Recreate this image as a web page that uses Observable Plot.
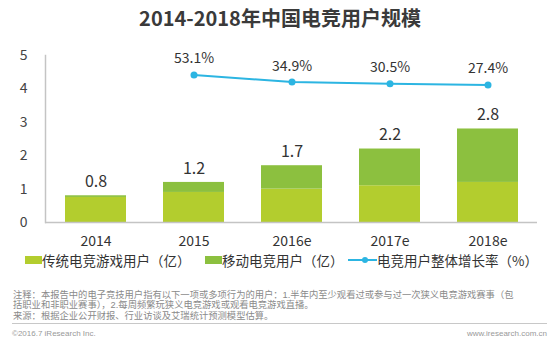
<!DOCTYPE html>
<html>
<head>
<meta charset="utf-8">
<script src="https://cdn.jsdelivr.net/npm/d3@7"></script>
<script src="https://cdn.jsdelivr.net/npm/@observablehq/plot@0.6"></script>
<style>
  html, body { margin: 0; padding: 0; background: #fff; }
  body { position: relative; width: 550px; height: 361px; overflow: hidden; font-family: "Noto Sans CJK SC", "Noto Sans", sans-serif; color: #333; }
  #title { position: absolute; left: 0; top: 0; width: 550px; height: 36px; line-height: 36px; text-align: center; font-size: 20px; font-weight: bold; color: #3a3a3a; padding-left: 10px; box-sizing: border-box; }
  #chart { position: absolute; left: 0; top: 36px; }
  #legend { position: absolute; left: 0; top: 248px; width: 550px; height: 24px; font-size: 13.5px; color: #333; }
  .li { position: absolute; top: 0; height: 24px; line-height: 24px; display: flex; align-items: center; white-space: nowrap; }
  .sw { display: inline-block; width: 17px; height: 8px; }
  #notes { position: absolute; left: 13px; top: 289.5px; font-family: "Liberation Sans", "Noto Sans CJK SC", sans-serif; font-size: 9.3px; line-height: 10.5px; color: #8a8a8a; white-space: nowrap; }
  #foot { position: absolute; left: 12px; right: 3px; top: 323px; border-top: 1px solid #c8c8c8; display: flex; justify-content: space-between; font-size: 8px; line-height: 10px; color: #999; padding-top: 5px; font-family: "Liberation Sans", Arial, sans-serif; }
</style>
</head>
<body>
<div id="title"></div>
<div id="chart"></div>
<div id="legend"></div>
<div id="notes"></div>
<div id="foot"><span>©2016.7 iResearch Inc.</span><span>www.iresearch.com.cn</span></div>
<script>
const titleText = "2014-2018年中国电竞用户规模";
const years = ["2014", "2015", "2016e", "2017e", "2018e"];
const traditional = [0.75, 0.9, 1.0, 1.1, 1.2];
const mobile = [0.05, 0.3, 0.7, 1.1, 1.6];
const totals = [0.8, 1.2, 1.7, 2.2, 2.8];
const growth = [null, 53.1, 34.9, 30.5, 27.4];
const seriesNames = ["传统电竞游戏用户（亿）", "移动电竞用户（亿）", "电竞用户整体增长率（%）"];
const seriesColors = ["#b3cd2e", "#8cc03f", "#2cb5e2"];
const yTicks = [0, 1, 2, 3, 4, 5];
const noteLines = [
  "注释：本报告中的电子竞技用户指有以下一项或多项行为的用户：1.半年内至少观看过或参与过一次狭义电竞游戏赛事（包",
  "括职业和非职业赛事），2.每周频繁玩狭义电竞游戏或观看电竞游戏直播。",
  "来源：根据企业公开财报、行业访谈及艾瑞统计预测模型估算。"
];

document.getElementById("title").textContent = titleText;
document.getElementById("notes").innerHTML = noteLines.map(s => `<div>${s}</div>`).join("");

const stacked = [];
years.forEach((y, i) => {
  stacked.push({year: y, type: seriesNames[0], value: traditional[i]});
  stacked.push({year: y, type: seriesNames[1], value: mobile[i]});
});
const totalData = years.map((y, i) => ({year: y, total: totals[i]}));
const rateData = years.map((y, i) => ({year: y, rate: growth[i]})).filter(d => d.rate != null);

// secondary (hidden) axis for the growth rate, mapped onto the primary 0–5 range
const rateAxis = d3.scaleLinear().domain([-325, 103]).range([0, 5]);

const chart = Plot.plot({
  width: 550,
  height: 225,
  marginLeft: 45,
  marginRight: 13,
  marginTop: 19,
  marginBottom: 39,
  style: {fontFamily: "'Noto Sans CJK SC', sans-serif", color: "#333", background: "transparent"},
  x: {domain: years, paddingInner: 0.38, paddingOuter: 0.19, label: null},
  y: {domain: [0, 5], label: null},
  color: {domain: seriesNames.slice(0, 2), range: seriesColors.slice(0, 2)},
  marks: [
    Plot.axisY({ticks: yTicks, tickFormat: d3.format("d"), tickSize: 0, tickPadding: 18, fontSize: 14, label: null, fill: "#444"}),
    Plot.axisX({tickSize: 0, tickPadding: 14, fontSize: 14, label: null, fill: "#333"}),
    Plot.frame({anchor: "left", stroke: "#c4c4c4", strokeWidth: 1.5}),
    Plot.barY(stacked, {x: "year", y: "value", fill: "type"}),
    Plot.ruleY([0], {stroke: "#c4c4c4", strokeWidth: 1.5}),
    Plot.text(totalData, {x: "year", y: "total", text: d => d.total.toFixed(1), dy: -14, fontSize: 16, fill: "#333"}),
    Plot.line(rateData, {x: "year", y: d => rateAxis(d.rate), stroke: seriesColors[2], strokeWidth: 2}),
    Plot.dot(rateData, {x: "year", y: d => rateAxis(d.rate), r: 3.5, fill: seriesColors[2], stroke: "none"}),
    Plot.text(rateData, {x: "year", y: d => rateAxis(d.rate), text: d => d.rate.toFixed(1) + "%", dy: -16, fontSize: 14, fill: "#333"})
  ]
});
document.getElementById("chart").appendChild(chart);

// legend
const legend = document.getElementById("legend");
const lefts = [25, 205, 348];
seriesNames.forEach((name, i) => {
  const item = document.createElement("div");
  item.className = "li";
  item.style.left = lefts[i] + "px";
  if (i < 2) {
    item.innerHTML = `<span class="sw" style="background:${seriesColors[i]}"></span><span>${name}</span>`;
  } else {
    item.innerHTML = `<svg width="29" height="10"><line x1="0" y1="5" x2="29" y2="5" stroke="${seriesColors[2]}" stroke-width="2"/><circle cx="17" cy="5" r="3" fill="${seriesColors[2]}"/></svg><span>${name}</span>`;
  }
  legend.appendChild(item);
});
</script>
</body>
</html>
